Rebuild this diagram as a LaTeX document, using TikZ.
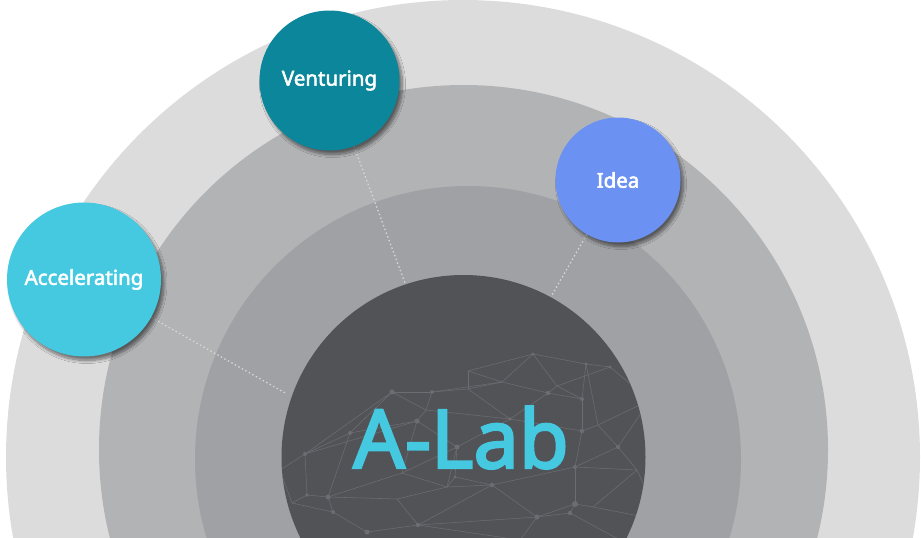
\documentclass[tikz,border=0pt]{standalone}
\usepackage{fontspec}
\setmainfont{Noto Sans}
\newfontfamily\bubblefont[FakeBold=2.5]{Noto Sans}
\newfontfamily\titlefont[FakeBold=3]{Noto Sans}
\usetikzlibrary{shadows.blur}
\definecolor{ringA}{RGB}{220,220,220}
\definecolor{ringB}{RGB}{178,179,181}
\definecolor{ringC}{RGB}{160,161,164}
\definecolor{core}{RGB}{82,83,87}
\definecolor{net}{RGB}{108,109,114}
\definecolor{cyanA}{RGB}{69,201,225}
\definecolor{tealV}{RGB}{11,134,154}
\definecolor{blueI}{RGB}{107,145,242}
\definecolor{dotline}{RGB}{215,216,218}
\pgfdeclarelayer{back}
\pgfsetlayers{back,main}
\tikzset{
  bubble/.style={circle, inner sep=0pt, text=white, font=\bubblefont\fontsize{20.5}{22}\selectfont,
    blur shadow={shadow xshift=3pt, shadow yshift=-4pt, shadow blur steps=10, shadow blur radius=3pt, shadow opacity=50}},
  link/.style={draw=dotline, line width=1.3pt, dash pattern=on 1.4pt off 2.6pt},
  mesh/.style={draw=net, line width=0.55pt},
  knot/.style={fill=net}
}
\begin{document}
\begin{tikzpicture}[x=1pt,y=-1pt]
\useasboundingbox (0,0) rectangle (921,538);
% satellite bubbles
\node[bubble, fill=cyanA, minimum size=154pt] (acc) at (84,279.5) {Accelerating};
\node[bubble, fill=tealV, minimum size=140pt] (ven) at (329.5,80.5) {Venturing};
\node[bubble, fill=blueI, minimum size=125pt] (idea) at (618,180) {Idea};
\node[text=cyanA, font=\titlefont\fontsize{81}{81}\selectfont, anchor=base] (alab) at (461,468) {A-Lab};
\begin{pgfonlayer}{back}
\begin{scope}
\clip (0,0) rectangle (921,538);
\fill[ringA] (463,457) circle (457);
\fill[ringB] (463.5,449.5) circle (364.5);
\fill[ringC] (468,459) circle (273);
\coordinate (c) at (463.5,457);
\fill[core] (c) circle (182);
% network texture
\begin{scope}
\clip (c) circle (182);
\foreach \n/\x/\y in {1/533/354,2/468/371,3/502/382,4/586/364,5/392/392,6/432/392,7/468/389,8/548/393,9/557/386,10/582/399,11/426/410,12/417/421,13/510/419,14/350/433,15/582/431,16/598/425,17/457/447,18/305/454,19/618/447,20/575/467,21/455/477,22/492/485,23/402/473,24/307/495,25/328/497,26/397/499,27/333/512,28/537/517,29/575/504,30/570/513,31/637/470,32/367/532,33/418/525,34/447/487,35/593/507,36/610/367,37/292/503,38/650/400,39/660/520,40/280/470,41/520/540,42/620/540}
  \coordinate (p\n) at (\x,\y);
\foreach \a/\b in {5/6,6/7,7/2,2/1,1/4,4/36,2/3,3/1,3/8,8/9,9/10,10/4,8/10,1/9,5/11,6/11,11/12,12/14,14/5,14/18,18/24,24/25,25/23,23/12,23/17,17/13,13/7,13/8,13/15,15/10,15/16,16/4,16/19,19/31,15/20,20/19,20/22,22/21,21/17,21/34,34/23,22/28,28/29,29/20,29/35,35/31,28/30,30/29,25/26,26/34,26/33,33/32,32/27,27/25,27/37,37/24,33/22,28/33,18/12,6/3,36/38,38/19,16/38,31/39,35/39,30/42,28/41,33/41,18/40,40/37,11/13,17/34,9/36,5/18,7/3,22/34,20/31,14/25,12/17}
  \draw[mesh] (p\a) -- (p\b);
\foreach \n/\r in {1/1.6,5/2.5,6/2,12/2.5,14/2,18/2,13/1.8,17/2.5,20/2,21/1.6,22/2.2,24/1.8,25/2.5,27/2,28/2.5,29/3,30/2.2,8/2.2,10/2,15/2.2,19/2,33/2.2,36/1.6,4/1.6,32/2.5}
  \fill[knot] (p\n) circle (\r);
\end{scope}
% dotted connectors
\coordinate (eA) at (287,394);
\coordinate (eV) at (405,283);
\coordinate (eI) at (552,295);
\draw[link] (acc) -- (eA);
\draw[link] (ven) -- (eV);
\draw[link] (idea) -- (eI);
\end{scope}
\end{pgfonlayer}
\end{tikzpicture}
\end{document}
